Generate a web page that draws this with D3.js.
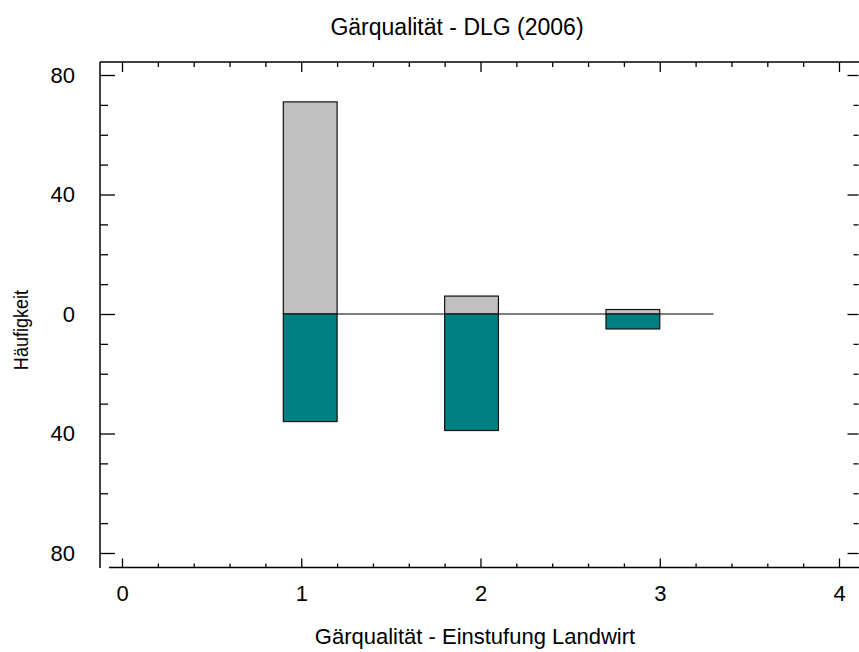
<!DOCTYPE html>
<html><head><meta charset="utf-8">
<script src="https://cdn.jsdelivr.net/npm/d3@7"></script>
<style>html,body{margin:0;padding:0;background:#fff;}svg{display:block;font-family:"Liberation Sans",Arial,sans-serif;}</style>
</head><body>
<svg id="c" width="859" height="652"></svg>
<script>
const categories = [1, 2, 3];
const barStart = [0.9, 1.8, 2.7];
const barEnd = [1.2, 2.1, 3.0];
const upperValues = [71, 6, 1.5];     // gray, above zero
const lowerValues = [36, 39, 5];      // teal, below zero
const xTicks = [0, 1, 2, 3, 4];
const yTicks = [-80, -40, 0, 40, 80];
const yTickLabels = ["80", "40", "0", "40", "80"];
const zeroLineRange = [0.9, 3.3];
const title = "Gärqualität - DLG (2006)";
const xTitle = "Gärqualität - Einstufung Landwirt";
const yTitle = "Häufigkeit";

(function () {
const svg = d3.select("#c");
const x = d3.scaleLinear().domain([0, 4]).range([122, 839]);
const y = d3.scaleLinear().domain([-80, 80]).range([553, 75]);
const pLeft = 100, pRight = 859, pTop = 62, pBottom = 567.5;

const minorX = d3.range(0, 4.0001, 0.2).filter(v => Math.abs(v - Math.round(v)) > 1e-6);
const minorY = d3.range(-80, 80.001, 10).filter(v => v % 40 !== 0);

function styleAxis(g) {
  g.select(".domain").remove();
  g.selectAll("line").attr("stroke", "#000").attr("stroke-width", 1.3);
}
function styleText(g) {
  g.select(".domain").remove();
  g.selectAll("text").attr("font-size", 22).attr("fill", "#000").attr("font-family", "Liberation Sans, Arial, sans-serif");
}

// frame lines
svg.append("line").attr("x1", pLeft).attr("x2", pLeft).attr("y1", pTop).attr("y2", 568).attr("stroke", "#000").attr("stroke-width", 1.5);
svg.append("line").attr("x1", pLeft).attr("x2", pRight).attr("y1", pTop).attr("y2", pTop).attr("stroke", "#000").attr("stroke-width", 1.5);
svg.append("line").attr("x1", 109).attr("x2", pRight).attr("y1", pBottom).attr("y2", pBottom).attr("stroke", "#000").attr("stroke-width", 1.5);

// bottom axis
svg.append("g").attr("transform", `translate(0,${pBottom})`)
  .call(d3.axisTop(x).tickValues(xTicks).tickSize(9).tickFormat("")).call(styleAxis);
svg.append("g").attr("transform", `translate(0,${pBottom})`)
  .call(d3.axisTop(x).tickValues(minorX).tickSize(4).tickFormat("")).call(styleAxis);
svg.append("g").attr("transform", `translate(0,${pBottom})`)
  .call(d3.axisBottom(x).tickValues(xTicks).tickSize(0).tickPadding(18).tickFormat(d3.format("d")))
  .call(styleText);

// top axis
svg.append("g").attr("transform", `translate(0,${pTop})`)
  .call(d3.axisBottom(x).tickValues(xTicks).tickSize(10).tickFormat("")).call(styleAxis);
svg.append("g").attr("transform", `translate(0,${pTop})`)
  .call(d3.axisBottom(x).tickValues(minorX).tickSize(5).tickFormat("")).call(styleAxis);

// left axis
svg.append("g").attr("transform", `translate(${pLeft},0)`)
  .call(d3.axisRight(y).tickValues(yTicks).tickSize(15).tickFormat("")).call(styleAxis);
svg.append("g").attr("transform", `translate(${pLeft},0)`)
  .call(d3.axisRight(y).tickValues(minorY).tickSize(8).tickFormat("")).call(styleAxis);
svg.append("g").attr("transform", `translate(${pLeft},0)`)
  .call(d3.axisLeft(y).tickValues(yTicks).tickSize(0).tickPadding(25).tickFormat((d, i) => yTickLabels[i]))
  .call(styleText);

// right axis
svg.append("g").attr("transform", `translate(858.5,0)`)
  .call(d3.axisLeft(y).tickValues(yTicks).tickSize(11).tickFormat("")).call(styleAxis);
svg.append("g").attr("transform", `translate(858.5,0)`)
  .call(d3.axisLeft(y).tickValues(minorY).tickSize(5).tickFormat("")).call(styleAxis);

// zero line
svg.append("line").attr("x1", x(zeroLineRange[0])).attr("x2", x(zeroLineRange[1]))
  .attr("y1", y(0)).attr("y2", y(0)).attr("stroke", "#000").attr("stroke-width", 1.2);

// bars
const data = categories.map((c, i) => ({c, s: barStart[i], e: barEnd[i], up: upperValues[i], lo: lowerValues[i]}));
svg.append("g").selectAll("rect.up").data(data).join("rect").attr("class", "up")
  .attr("x", d => x(d.s)).attr("width", d => x(d.e) - x(d.s))
  .attr("y", d => y(d.up)).attr("height", d => y(0) - y(d.up))
  .attr("fill", "#C0C0C0").attr("stroke", "#111").attr("stroke-width", 1.2);
svg.append("g").selectAll("rect.lo").data(data).join("rect").attr("class", "lo")
  .attr("x", d => x(d.s)).attr("width", d => x(d.e) - x(d.s))
  .attr("y", y(0)).attr("height", d => y(-d.lo) - y(0))
  .attr("fill", "#008080").attr("stroke", "#111").attr("stroke-width", 1.2);

// titles
svg.append("text").attr("x", 457).attr("y", 35).attr("text-anchor", "middle").attr("font-size", 23).text(title);
svg.append("text").attr("x", 475).attr("y", 644).attr("text-anchor", "middle").attr("font-size", 22).text(xTitle);
svg.append("text").attr("transform", "translate(28,330) rotate(-90) scale(0.86,1)").attr("text-anchor", "middle").attr("font-size", 21).text(yTitle);
})();
</script>
</body></html>
